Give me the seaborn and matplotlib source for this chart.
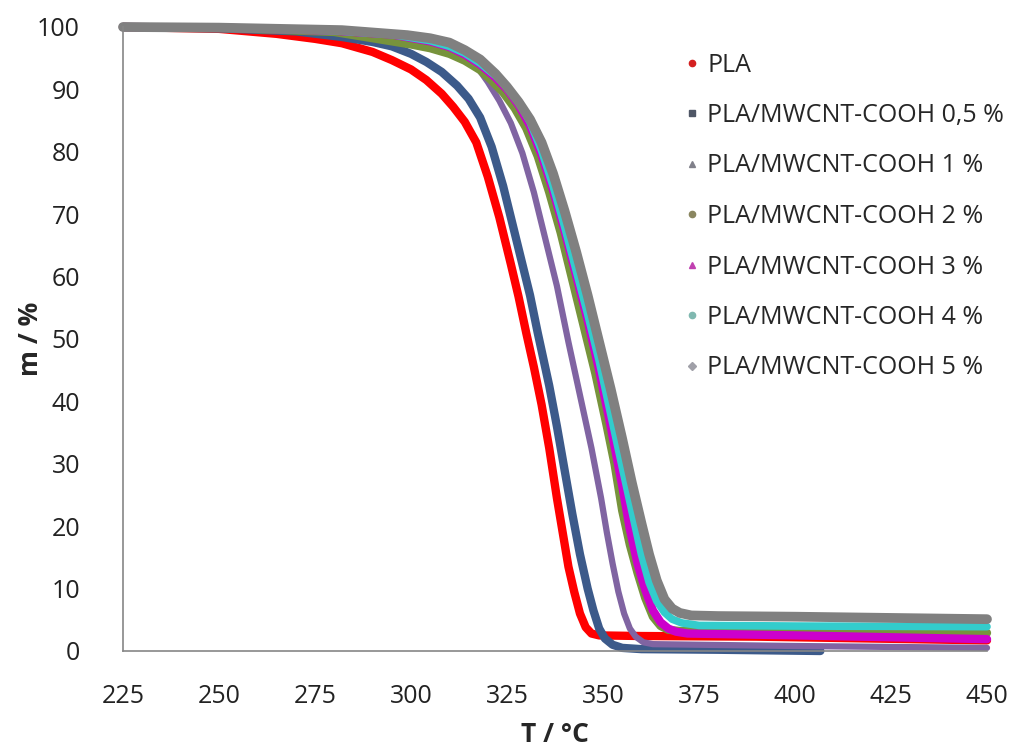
import matplotlib
matplotlib.use("Agg")
import matplotlib.pyplot as plt
from matplotlib.lines import Line2D
import seaborn as sns

# TGA curves (T in °C, m in %)
t_pla = [225, 250, 265, 275, 282, 290, 295, 300, 304, 308, 311, 314, 317, 320, 323, 326, 328, 330, 332, 334,
         336, 338, 339.5, 341, 342.5, 344, 345.5, 347, 349, 360, 390, 420, 450]
m_pla = [100, 99.7, 98.9, 98.1, 97.4, 96.0, 94.7, 93.2, 91.5, 89.3, 87.2, 84.8, 81.5, 76, 69.5, 62, 56.8, 51, 45.5, 39.5,
         32.5, 24.5, 19, 13.5, 9.5, 6, 3.8, 2.8, 2.5, 2.4, 2.3, 2.0, 1.7]

t_05 = [225, 250, 270, 282, 290, 295, 300, 304, 308, 312, 315, 318, 321, 324, 328, 331, 333, 336, 338, 340,
        342, 344, 346, 347.5, 349, 350.5, 352.5, 355, 360, 380, 406.6]
m_05 = [100, 99.8, 99.3, 98.4, 97.6, 96.9, 95.7, 94.4, 92.8, 90.6, 88.5, 85.5, 80.8, 74.5, 64.5, 57, 51, 42.5, 36, 29,
        22, 15.5, 10, 6.5, 3.6, 2.0, 1.0, 0.5, 0.3, 0.2, 0.0]

t_1 = [225, 250, 280, 295, 305, 310, 314, 317, 320, 323, 326, 329, 332, 335, 338, 341, 344, 347, 349.5, 351,
       352.5, 354, 355.5, 357, 358.5, 360.5, 363, 400, 450]
m_1 = [100, 99.9, 99.4, 98.6, 97.5, 96.7, 95.6, 93.8, 91.2, 88.2, 84.6, 79.8, 73.5, 66, 58.5, 49.5, 41, 32.5, 24.5, 19,
       14, 9.5, 6, 3.6, 2.3, 1.4, 1.1, 0.8, 0.5]

t_2 = [225, 250, 280, 292, 300, 305, 310, 314, 318, 321, 324, 327, 330, 333, 336, 339, 342, 345, 348, 351,
       353, 355, 357, 359, 361, 363, 365, 367, 370, 400, 450]
m_2 = [100, 99.9, 99.2, 98.0, 97.2, 96.6, 95.7, 94.6, 93.1, 91.4, 89.5, 87, 83.8, 79.3, 73.5, 67, 59.5, 52, 44.5, 36,
       30, 22.5, 17, 12.5, 8.5, 5.5, 4.0, 3.4, 3.2, 3.1, 2.9]

t_3 = [225, 250, 280, 295, 305, 310, 314, 318, 322, 325, 328, 331, 334, 337, 340, 343, 346, 349, 352, 355,
       357, 359, 361, 363, 365, 367, 369, 372, 400, 450]
m_3 = [100, 99.9, 99.4, 98.8, 97.7, 96.8, 95.6, 94.0, 91.9, 90.0, 87.5, 84.2, 79.5, 73.8, 67.3, 60.2, 53, 45, 36, 26.5,
       19.5, 14, 9.8, 6.5, 4.6, 3.6, 3.1, 2.8, 2.5, 1.9]

t_4 = [225, 250, 280, 295, 305, 310, 314, 318, 322, 325, 328, 331, 334, 337, 340, 343, 346, 349, 352, 355,
       357.5, 360, 362, 364, 366, 368, 370.5, 375, 400, 450]
m_4 = [100, 99.9, 99.4, 98.8, 97.8, 96.9, 95.8, 94.2, 92.2, 90.4, 88, 84.8, 80.2, 74.5, 68, 61, 54, 46.5, 38, 29.5,
       22.5, 15.5, 11, 8, 6.2, 5.1, 4.5, 4.1, 4.0, 3.9]

t_5 = [225, 250, 282, 299, 305, 310, 314, 318, 322, 325, 328, 331, 334, 337, 340, 343, 346, 349, 352, 355,
       357.5, 360, 362, 364, 366, 368, 370, 373, 380, 400, 425, 450]
m_5 = [100, 99.9, 99.5, 98.7, 98.2, 97.5, 96.3, 94.8, 92.5, 90.4, 88, 85.2, 81.5, 76.5, 70.5, 64, 57, 49.5, 42, 34,
       27, 20.5, 15.5, 11.3, 8.3, 6.8, 6.1, 5.7, 5.6, 5.5, 5.3, 5.1]

labels = ["PLA", "PLA/MWCNT-COOH 0,5 %", "PLA/MWCNT-COOH 1 %", "PLA/MWCNT-COOH 2 %",
          "PLA/MWCNT-COOH 3 %", "PLA/MWCNT-COOH 4 %", "PLA/MWCNT-COOH 5 %"]
series = [(t_pla, m_pla), (t_05, m_05), (t_1, m_1), (t_2, m_2), (t_3, m_3), (t_4, m_4), (t_5, m_5)]
line_colors = ["#ff0000", "#3c5a8a", "#8064a2", "#77933c", "#cc00cc", "#33cccc", "#808080"]
line_widths = [6, 6, 4.5, 6, 6, 5.5, 7]
legend_colors = ["#d42020", "#4f5666", "#80808a", "#8a8660", "#c040b0", "#80b8b0", "#a0a0a8"]
legend_markers = ["o", "s", "^", "o", "^", "o", "D"]

sns.set_style("white")
plt.rcParams["font.family"] = ["Open Sans", "DejaVu Sans"]

fig = plt.figure(figsize=(10.27, 7.46), dpi=100)
ax = fig.add_axes([123 / 1027, 1 - 651 / 746, (987 - 123) / 1027, (651 - 27) / 746])

for (t, m), c, lw in zip(series, line_colors, line_widths):
    sns.lineplot(x=t, y=m, ax=ax, color=c, linewidth=lw, sort=False, estimator=None)
for line in ax.lines:
    line.set_clip_on(False)
    line.set_solid_capstyle("round")
    line.set_solid_joinstyle("round")

ax.set_xlim(225, 450)
ax.set_ylim(0, 100)
ax.set_xticks(range(225, 451, 25))
ax.set_yticks(range(0, 101, 10))
ax.tick_params(axis="both", labelsize=18, colors="#868686", labelcolor="#222222",
               length=10, width=1.2, direction="out")
ax.tick_params(axis="x", pad=14)
ax.tick_params(axis="y", pad=21)
for side in ["top", "right"]:
    ax.spines[side].set_visible(False)
for side in ["left", "bottom"]:
    ax.spines[side].set_color("#868686")
    ax.spines[side].set_linewidth(1.2)

ax.set_xlabel("T / °C", fontsize=19, fontweight="bold")
ax.set_ylabel("m / %", fontsize=19, fontweight="bold")
ax.xaxis.set_label_coords(0.5, -0.112)
ax.yaxis.set_label_coords(-0.092, 0.5)

handles = [Line2D([], [], linestyle="none", marker=mk, color=c, markersize=4.5)
           for mk, c in zip(legend_markers, legend_colors)]
ax.legend(handles, labels, loc="upper left", bbox_to_anchor=(672 / 1027, 1 - 40 / 746),
          bbox_transform=fig.transFigure, frameon=False, fontsize=18,
          handlelength=0.6, handletextpad=0.3, labelspacing=1.02, borderpad=0)

fig.savefig("out.png", dpi=100)
